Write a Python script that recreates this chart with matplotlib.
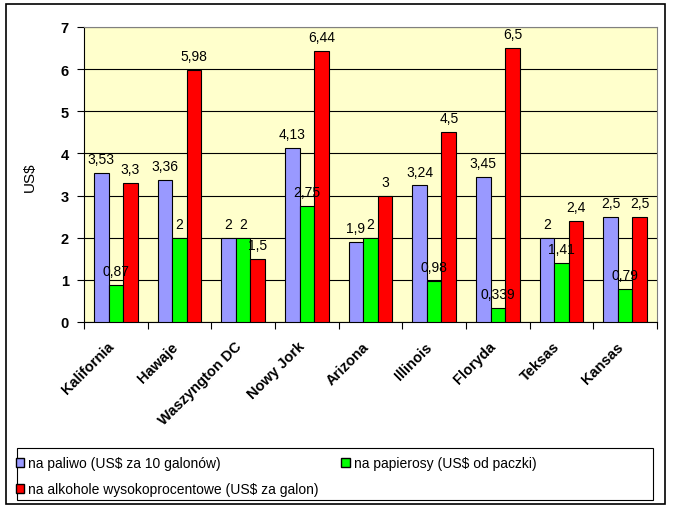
import matplotlib
matplotlib.use("Agg")
import matplotlib.pyplot as plt
import numpy as np
from matplotlib.patches import Rectangle, Patch

plt.rcParams["font.family"] = ["Liberation Sans", "DejaVu Sans"]

states = ["Kalifornia", "Hawaje", "Waszyngton DC", "Nowy Jork", "Arizona",
          "Illinois", "Floryda", "Teksas", "Kansas"]
fuel = [3.53, 3.36, 2, 4.13, 1.9, 3.24, 3.45, 2, 2.5]
cigarettes = [0.87, 2, 2, 2.75, 2, 0.98, 0.339, 1.41, 0.79]
alcohol = [3.3, 5.98, 1.5, 6.44, 3, 4.5, 6.5, 2.4, 2.5]
series_names = ["na paliwo (US$ za 10 galonów)",
                "na papierosy (US$ od paczki)",
                "na alkohole wysokoprocentowe (US$ za galon)"]
colors = ["#9999FF", "#00FF00", "#FF0000"]

fig = plt.figure(figsize=(6.73, 5.10), dpi=100)
# outer chart border
fig.patches.append(Rectangle((6 / 673, 5 / 510), 659 / 673, 500 / 510,
                             transform=fig.transFigure, fill=False,
                             edgecolor="black", linewidth=1.2))

ax = fig.add_axes([84 / 673, 187 / 510, 573 / 673, 295 / 510])
ax.set_facecolor("#FFFFCC")

x = np.arange(len(states))
w = 0.23
for k, (vals, color) in enumerate(zip([fuel, cigarettes, alcohol], colors)):
    pos = x + (k - 1) * w
    ax.bar(pos, vals, width=w, color=color, edgecolor="black", linewidth=0.8,
           zorder=3)
    for p, v in zip(pos, vals):
        ax.annotate(f"{v:g}".replace(".", ","), (p, v), xytext=(0, 5),
                    textcoords="offset points", ha="center", va="bottom",
                    fontsize=10, zorder=4)

ax.set_xlim(-0.5, len(states) - 0.5)
ax.set_ylim(0, 7)
ax.set_yticks(range(8))
ax.yaxis.grid(True, color="black", linewidth=0.8, zorder=0)
ax.set_axisbelow(True)
for lab in ax.get_yticklabels():
    lab.set_fontweight("bold")
ax.tick_params(axis="y", labelsize=10.5, length=5, direction="out",
               color="black", pad=6)

# ticks between categories, rotated names under each group
ax.set_xticks(np.arange(-0.5, len(states)), labels=[])
ax.tick_params(axis="x", which="major", length=5, color="black")
for i, name in enumerate(states):
    ax.annotate(name, (i, 0), xytext=(-4, -22), textcoords="offset pixels",
                rotation=45, ha="right", va="center", rotation_mode="anchor",
                fontsize=10.5, fontweight="bold", annotation_clip=False)

for side in ["top", "right"]:
    ax.spines[side].set_color("#808080")
for side in ["left", "bottom"]:
    ax.spines[side].set_color("black")

fig.text(30 / 673, 1 - 177 / 510, "US$", rotation=90, ha="center",
         va="center", fontsize=11)

handles = [Patch(facecolor=colors[0], edgecolor="black"),
           Patch(facecolor=colors[2], edgecolor="black"),
           Patch(facecolor=colors[1], edgecolor="black")]
labels = [series_names[0], series_names[2], series_names[1]]
fig.legend(handles, labels, ncol=2, loc="upper left",
           bbox_to_anchor=(16 / 673, 1 - 457 / 510),
           fontsize=10, frameon=False,
           handlelength=0.6, handleheight=0.6, handletextpad=0.3,
           borderpad=0.0, labelspacing=0.9, columnspacing=1.6,
           borderaxespad=0)
fig.patches.append(Rectangle((17 / 673, 9 / 510), 636 / 673, 52 / 510,
                             transform=fig.transFigure, fill=False,
                             edgecolor="black", linewidth=0.8))

fig.savefig("out.png", dpi=100)
